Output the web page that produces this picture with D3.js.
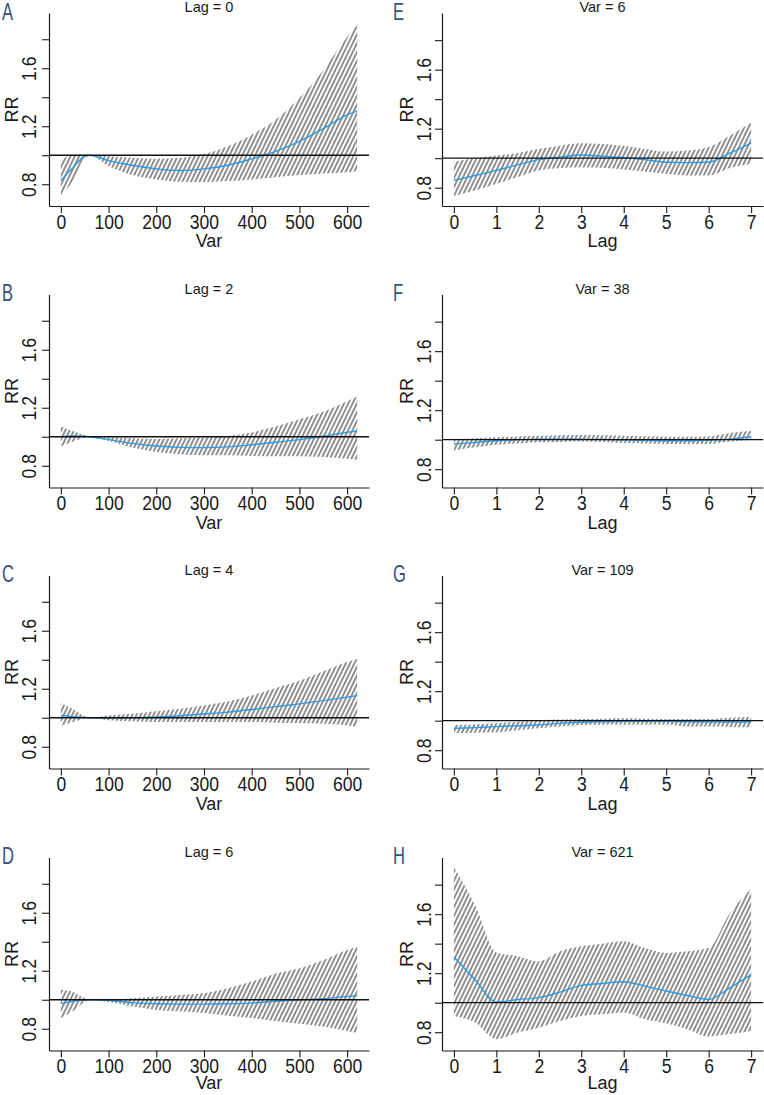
<!DOCTYPE html>
<html>
<head>
<meta charset="utf-8">
<script src="https://cdn.jsdelivr.net/npm/d3@7"></script>
<style>
body { margin: 0; background: #fff; }
svg { display: block; }
text { font-family: "Liberation Sans", Arial, sans-serif; fill: #1a1a1a; }
</style>
</head>
<body>
<div id="chart"></div>
<script>
// exposure-response (Var) and lag-response (Lag) slices, RR with 95% CI

// x values
var varX = [0, 25, 50, 60, 100, 150, 200, 250, 300, 350, 400, 450, 500, 550, 600, 621];
var lagX = [0, 0.5, 1, 1.5, 2, 2.5, 3, 3.5, 4, 4.5, 5, 5.5, 6, 6.5, 7];

// tick labels
var varTicks = [0, 100, 200, 300, 400, 500, 600];
var lagTicks = [0, 1, 2, 3, 4, 5, 6, 7];
var rrTicks = [0.8, 1.0, 1.2, 1.4, 1.6, 1.8];
var rrLabels = [0.8, 1.2, 1.6];

// A: Lag = 0
var aFit  = [0.826, 0.913, 0.993, 1.0, 0.963, 0.931, 0.906, 0.895, 0.906, 0.931, 0.975, 1.027, 1.096, 1.183, 1.279, 1.306];
var aLow  = [0.719, 0.822, 0.970, 1.0, 0.925, 0.863, 0.833, 0.817, 0.815, 0.822, 0.833, 0.849, 0.863, 0.874, 0.883, 0.890];
var aHigh = [0.959, 1.005, 1.005, 1.0, 0.993, 0.982, 0.975, 0.982, 1.008, 1.062, 1.142, 1.245, 1.395, 1.587, 1.816, 1.896];
// B: Lag = 2
var bFit  = [1.0, 1.005, 1.003, 1.0, 0.980, 0.954, 0.936, 0.927, 0.925, 0.930, 0.945, 0.962, 0.980, 1.003, 1.030, 1.040];
var bLow  = [0.935, 0.965, 0.995, 1.0, 0.970, 0.925, 0.895, 0.880, 0.873, 0.872, 0.868, 0.866, 0.865, 0.860, 0.848, 0.840];
var bHigh = [1.070, 1.040, 1.010, 1.0, 0.995, 0.990, 0.985, 0.990, 0.995, 1.005, 1.030, 1.070, 1.120, 1.172, 1.245, 1.275];
// C: Lag = 4
var cFit  = [1.016, 1.008, 1.002, 1.0, 0.998, 1.0, 1.005, 1.014, 1.026, 1.039, 1.057, 1.077, 1.096, 1.118, 1.142, 1.153];
var cLow  = [0.945, 0.970, 0.995, 1.0, 0.982, 0.975, 0.970, 0.970, 0.970, 0.970, 0.970, 0.966, 0.963, 0.958, 0.947, 0.936];
var cHigh = [1.100, 1.060, 1.010, 1.0, 1.015, 1.027, 1.045, 1.062, 1.085, 1.112, 1.153, 1.205, 1.255, 1.320, 1.385, 1.405];
// D: Lag = 6
var dFit  = [0.973, 0.990, 0.998, 1.0, 0.997, 0.980, 0.972, 0.970, 0.970, 0.972, 0.977, 0.989, 1.0, 1.007, 1.023, 1.027];
var dLow  = [0.874, 0.920, 0.985, 1.0, 0.985, 0.955, 0.930, 0.920, 0.909, 0.890, 0.874, 0.851, 0.835, 0.815, 0.785, 0.770];
var dHigh = [1.069, 1.055, 1.010, 1.0, 1.0, 1.010, 1.023, 1.033, 1.046, 1.080, 1.126, 1.180, 1.217, 1.274, 1.343, 1.366];
// E: Var = 6
var eFit  = [0.850, 0.883, 0.917, 0.955, 0.990, 1.007, 1.022, 1.013, 1.004, 0.990, 0.973, 0.970, 0.973, 1.034, 1.103];
var eLow  = [0.744, 0.782, 0.827, 0.872, 0.917, 0.933, 0.939, 0.935, 0.924, 0.910, 0.894, 0.883, 0.883, 0.933, 0.962];
var eHigh = [0.978, 1.0, 1.018, 1.036, 1.063, 1.085, 1.101, 1.097, 1.085, 1.063, 1.045, 1.052, 1.074, 1.153, 1.238];
// F: Var = 38
var fFit  = [0.970, 0.982, 0.993, 1.0, 1.004, 1.004, 1.004, 1.002, 0.998, 0.996, 0.993, 0.993, 0.996, 1.004, 1.020];
var fLow  = [0.926, 0.948, 0.966, 0.975, 0.982, 0.985, 0.987, 0.984, 0.978, 0.974, 0.970, 0.970, 0.970, 0.987, 1.0];
var fHigh = [1.004, 1.010, 1.016, 1.022, 1.027, 1.030, 1.031, 1.030, 1.027, 1.023, 1.020, 1.020, 1.022, 1.045, 1.061];
// G: Var = 109
var gFit  = [0.948, 0.953, 0.960, 0.966, 0.971, 0.982, 0.989, 0.993, 0.996, 0.996, 0.996, 0.993, 0.991, 0.991, 0.993];
var gLow  = [0.915, 0.918, 0.921, 0.935, 0.948, 0.960, 0.971, 0.973, 0.975, 0.975, 0.975, 0.960, 0.960, 0.958, 0.955];
var gHigh = [0.971, 0.975, 0.982, 0.993, 1.004, 1.008, 1.011, 1.014, 1.016, 1.014, 1.011, 1.011, 1.011, 1.020, 1.027];
// H: Var = 621
var hFit  = [1.310, 1.155, 1.004, 1.022, 1.034, 1.072, 1.117, 1.130, 1.142, 1.112, 1.079, 1.049, 1.022, 1.101, 1.190];
var hLow  = [0.910, 0.865, 0.753, 0.798, 0.831, 0.876, 0.910, 0.921, 0.933, 0.888, 0.861, 0.820, 0.771, 0.787, 0.809];
var hHigh = [1.920, 1.660, 1.340, 1.315, 1.280, 1.348, 1.382, 1.400, 1.416, 1.370, 1.337, 1.348, 1.370, 1.607, 1.770];

var letters = ["A", "B", "C", "D", "E", "F", "G", "H"];
var titles = ["Lag = 0", "Lag = 2", "Lag = 4", "Lag = 6", "Var = 6", "Var = 38", "Var = 109", "Var = 621"];

var W = 764, H = 1095;
var svg = d3.select("#chart").append("svg").attr("width", W).attr("height", H);
svg.append("rect").attr("width", W).attr("height", H).attr("fill", "#fff");

// shading lines like R polygon(density=...)
svg.append("defs").append("pattern")
  .attr("id", "hatch")
  .attr("patternUnits", "userSpaceOnUse")
  .attr("width", 3.85).attr("height", 20)
  .attr("patternTransform", "rotate(26)")
  .append("line")
  .attr("x1", 1).attr("y1", -2).attr("x2", 1).attr("y2", 22)
  .attr("stroke", "#262626").attr("stroke-width", 1);

var cols = [
  { left: 49, right: 369, xdom: [-24.84, 645.84], ydom: [0.650, 1.981], ticks: varTicks, xlab: "Var", x: varX,
    series: [[aFit, aLow, aHigh], [bFit, bLow, bHigh], [cFit, cLow, cHigh], [dFit, dLow, dHigh]],
    lx: 2, tickOff: -13, rrOff: -31 },
  { left: 442, right: 763, xdom: [-0.28, 7.28], ydom: [0.676, 1.984], ticks: lagTicks, xlab: "Lag", x: lagX,
    series: [[eFit, eLow, eHigh], [fFit, fLow, fHigh], [gFit, gLow, gHigh], [hFit, hLow, hHigh]],
    lx: 393, tickOff: -11, rrOff: -29 }
];
var rowTop = [13, 294.5, 575.5, 857.5];
var plotH = 193;

cols.forEach(function(col, ci) {
  col.series.forEach(function(s, ri) {
    var top = rowTop[ri], bottom = top + plotH;
    var idx = ci * 4 + ri;
    var x = d3.scaleLinear().domain(col.xdom).range([col.left, col.right]);
    var y = d3.scaleLinear().domain(col.ydom).range([bottom, top]);
    var g = svg.append("g");

    var rows = col.x.map(function(v, i) { return { x: v, fit: s[0][i], lo: s[1][i], hi: s[2][i] }; });

    // CI band
    g.append("path")
      .datum(rows)
      .attr("d", d3.area()
        .x(function(d) { return x(d.x); })
        .y0(function(d) { return y(d.lo); })
        .y1(function(d) { return y(d.hi); })
        .curve(d3.curveMonotoneX))
      .attr("fill", "url(#hatch)");

    // RR curve
    g.append("path")
      .datum(rows)
      .attr("d", d3.line()
        .x(function(d) { return x(d.x); })
        .y(function(d) { return y(d.fit); })
        .curve(d3.curveMonotoneX))
      .attr("fill", "none")
      .attr("stroke", "#2c9be8")
      .attr("stroke-width", 1.4);

    // reference line RR = 1
    g.append("line")
      .attr("x1", col.left).attr("x2", col.right)
      .attr("y1", y(1)).attr("y2", y(1))
      .attr("stroke", "#111").attr("stroke-width", 1.3);

    // x axis
    var xa = g.append("g")
      .attr("transform", "translate(0," + bottom + ")")
      .call(d3.axisBottom(x).tickValues(col.ticks).tickSize(7).tickSizeOuter(0).tickPadding(2));
    xa.selectAll("text")
      .attr("font-size", "19.5px")
      .attr("transform", "scale(0.9,1)")
      .attr("fill", "#1a1a1a");

    // y axis
    var ya = g.append("g")
      .attr("transform", "translate(" + col.left + ",0)")
      .call(d3.axisLeft(y).tickValues(rrTicks).tickSize(7).tickSizeOuter(0)
        .tickFormat(function(d) { return rrLabels.some(function(l) { return Math.abs(l - d) < 1e-9; }) ? d3.format(".1f")(d) : ""; }));
    ya.selectAll("text")
      .attr("font-size", "19.5px")
      .attr("transform", "rotate(-90) scale(0.9,1)")
      .attr("x", 0).attr("y", col.tickOff).attr("dy", 0)
      .attr("text-anchor", "middle");

    [xa, ya].forEach(function(a) {
      a.select(".domain").attr("stroke", "#1a1a1a").attr("stroke-width", 1.2);
      a.selectAll(".tick line").attr("stroke", "#1a1a1a").attr("stroke-width", 1.1);
    });

    // labels
    var cx = (col.left + col.right) / 2;
    g.append("text").attr("x", cx).attr("y", bottom + (ri === 3 ? 38.5 : 41))
      .attr("text-anchor", "middle").attr("font-size", "18px").text(col.xlab);
    g.append("text")
      .attr("transform", "translate(" + (col.left + col.rrOff) + "," + ((top + bottom) / 2) + ") rotate(-90)")
      .attr("text-anchor", "middle").attr("font-size", "18px").text("RR");
    g.append("text").attr("x", cx).attr("y", top - 1)
      .attr("text-anchor", "middle").attr("font-size", "14.5px").text(titles[idx]);
    g.append("text")
      .attr("transform", "translate(" + col.lx + "," + (top + 6.5) + ") scale(0.72,1)")
      .attr("font-family", "'Liberation Serif', 'DejaVu Serif', serif")
      .attr("font-size", "23px")
      .style("fill", "#35507e")
      .text(letters[idx]);
  });
});
</script>
</body>
</html>
